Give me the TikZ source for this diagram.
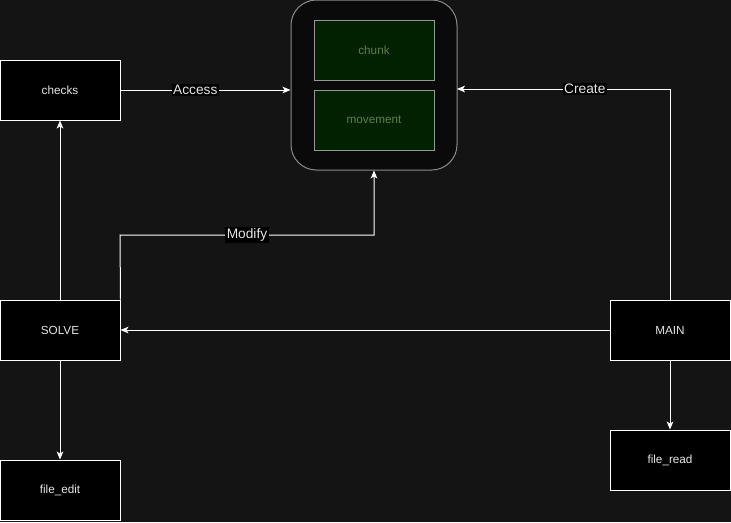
\documentclass[tikz,border=0pt]{standalone}
\usepackage{fontspec}
\setmainfont{Liberation Sans}
\usetikzlibrary{arrows.meta}
\definecolor{bg}{HTML}{141414}
\definecolor{cont}{HTML}{0A0A0A}
\definecolor{contline}{HTML}{8A8A8A}
\definecolor{greenfill}{HTML}{002200}
\definecolor{greentext}{HTML}{5B804A}
\definecolor{txt}{HTML}{E6E6E6}
\tikzset{
  box/.style={draw=white, line width=0.75pt, fill=black, minimum width=90pt, minimum height=45pt, inner sep=0pt, text=txt, font=\fontsize{8.8}{10}\selectfont},
  inner/.style={draw=contline!90, line width=0.75pt, fill=greenfill, minimum width=90pt, minimum height=45pt, inner sep=0pt, text=greentext, font=\fontsize{8.8}{10}\selectfont},
  conn/.style={draw=white, line width=0.75pt, -{Stealth[length=6pt,width=5pt,inset=1.5pt]}},
  lbl/.style={fill=black, text=txt, inner sep=1pt, font=\fontsize{10.3}{12}\selectfont},
}
\begin{document}
\begin{tikzpicture}[x=0.75pt,y=-0.75pt]
\fill[bg] (0,0) rectangle (731,522);
\useasboundingbox (0,0) rectangle (731,522);
\node[draw=contline, line width=0.75pt, fill=cont, rounded corners=19pt, minimum width=124.5pt, minimum height=127.5pt, inner sep=0pt] (cont) at (374,85) {};
\node[inner] (chunk) at (374,50) {chunk};
\node[inner] (move) at (374,120) {movement};
\node[box] (checks) at (60,90) {checks};
\node[box] (solve) at (60,330) {SOLVE};
\node[box] (fedit) at (60,490) {file\_edit};
\node[box] (main) at (670,330) {MAIN};
\node[box] (fread) at (670,460) {file\_read};
\coordinate (cl) at (cont.west |- checks.east);
\coordinate (cr) at (457,89);
\draw[conn] (checks.east) -- node[lbl, pos=0.44] (acc) {Access} (cl);
\draw[conn] (main.north) |- node[lbl, pos=0.70] (cre) {Create} (cr);
\draw[conn] (solve.north east) -- (120,235) -- node[lbl, pos=0.5] (mod) {Modify} (374,235) -- (cont.south);
\draw[conn] (solve.north) -- (checks.south);
\draw[conn] (main.west) -- (solve.east);
\draw[conn] (solve.south) -- (fedit.north);
\draw[conn] (main.south) -- (fread.north);
\end{tikzpicture}
\end{document}
